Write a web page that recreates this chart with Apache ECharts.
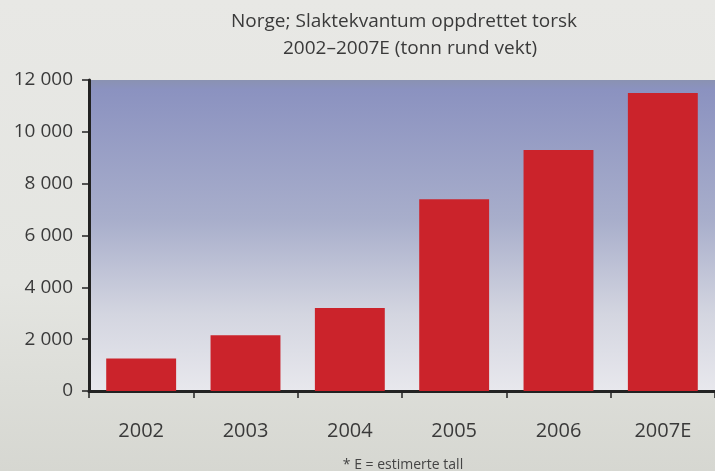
<!DOCTYPE html>
<html>
<head>
<meta charset="utf-8">
<script src="https://cdn.jsdelivr.net/npm/echarts@6/dist/echarts.min.js"></script>
<style>
  html, body { margin: 0; padding: 0; }
  body { background: linear-gradient(#e8e8e5, #e4e5e1 60%, #d6d7d1); }
  #chart { width: 715px; height: 471px; }
</style>
</head>
<body>
<div id="chart"></div>
<script>
// data
const years = ['2002', '2003', '2004', '2005', '2006', '2007E'];
const tonnes = [1250, 2150, 3200, 7400, 9300, 11500];

const titleLines = ['Norge; Slaktekvantum oppdrettet torsk', '2002\u20132007E (tonn rund vekt)'];
const footnote = '* E = estimerte tall';

const font = '"Open Sans", "Liberation Sans", sans-serif';
const titleStyle = { fontFamily: font, fontWeight: 'normal', fontSize: 19, color: '#3a3a3a', lineHeight: 27 };

const chart = echarts.init(document.getElementById('chart'));

chart.setOption({
    backgroundColor: 'transparent',
    animation: false,
    title: [{
        text: titleLines[0],
        left: 399,
        top: 3,
        textAlign: 'center',
        textStyle: titleStyle
    }, {
        text: titleLines[1],
        left: 405,
        top: 30,
        textAlign: 'center',
        textStyle: titleStyle
    }, {
        text: footnote,
        left: 398,
        top: 453,
        textAlign: 'center',
        textStyle: { fontFamily: font, fontWeight: 'normal', fontSize: 14, color: '#444' }
    }],
    grid: {
        left: 89,
        top: 80,
        width: 628,
        bottom: 80,
        show: true,
        borderWidth: 0,
        backgroundColor: new echarts.graphic.LinearGradient(0, 0, 0, 1, [
            { offset: 0, color: '#8a92b2' },
            { offset: 0.03, color: '#8b92c0' },
            { offset: 0.45, color: '#a8aecb' },
            { offset: 0.75, color: '#d3d5e0' },
            { offset: 1, color: '#e8e8ed' }
        ])
    },
    xAxis: {
        type: 'category',
        data: years,
        axisLine: { lineStyle: { color: '#222', width: 3 } },
        axisTick: { show: true, length: 7, lineStyle: { color: '#222', width: 1.5 } },
        axisLabel: { margin: 30, fontFamily: font, fontSize: 20, color: '#3a3a3a' },
        splitLine: { show: false }
    },
    yAxis: {
        type: 'value',
        min: 0,
        max: 12000,
        interval: 2000,
        axisLine: { show: true, lineStyle: { color: '#222', width: 3 } },
        axisTick: { show: true, length: 7, lineStyle: { color: '#222', width: 1.5 } },
        axisLabel: {
            margin: 16,
            fontFamily: font,
            fontSize: 19,
            color: '#3a3a3a',
            formatter: v => String(v).replace(/\B(?=(\d{3})+(?!\d))/g, ' ')
        },
        splitLine: { show: false }
    },
    series: [{
        type: 'bar',
        data: tonnes,
        barWidth: '67%',
        itemStyle: { color: '#cb232b' }
    }]
});
</script>
</body>
</html>
